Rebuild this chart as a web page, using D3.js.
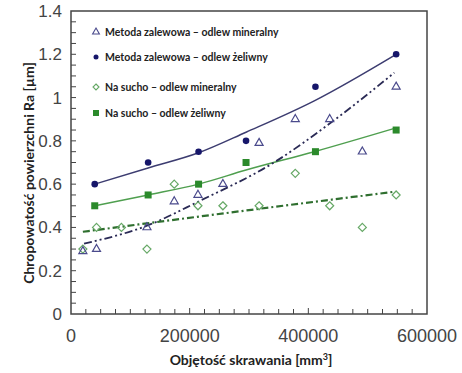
<!DOCTYPE html>
<html>
<head>
<meta charset="utf-8">
<script src="https://cdn.jsdelivr.net/npm/d3@7"></script>
<style>
  body { margin: 0; background: #fff; }
  svg { display: block; }
</style>
</head>
<body>
<div id="chart"></div>
<script>
// Ra vs cutting volume, four series + trend lines
const width = 462, height = 373;
const margin = {left: 71, right: 35, top: 11, bottom: 59};

// measured points
const triX = [20000, 43000, 128000, 174000, 214000, 256000, 317000, 378000, 436000, 491000, 548000];
const triY = [0.29, 0.30, 0.40, 0.52, 0.55, 0.60, 0.79, 0.90, 0.90, 0.75, 1.05];
const circX = [40000, 130000, 215000, 295000, 412000, 548000];
const circY = [0.60, 0.70, 0.75, 0.80, 1.05, 1.20];
const diaX = [20000, 43000, 85000, 128000, 174000, 214000, 256000, 317000, 378000, 436000, 491000, 548000];
const diaY = [0.30, 0.40, 0.40, 0.30, 0.60, 0.50, 0.50, 0.50, 0.65, 0.50, 0.40, 0.55];
const sqX = [40000, 130000, 215000, 295000, 412000, 548000];
const sqY = [0.50, 0.55, 0.60, 0.70, 0.75, 0.85];

// trend lines
const trendCircX = [40000, 130000, 215000, 295000, 410000, 548000];
const trendCircY = [0.60, 0.675, 0.745, 0.84, 0.985, 1.20];
const trendSqX = [40000, 130000, 215000, 295000, 410000, 548000];
const trendSqY = [0.50, 0.55, 0.60, 0.665, 0.75, 0.86];
const trendTriX = [22000, 130000, 215000, 345000, 436000, 545000];
const trendTriY = [0.325, 0.41, 0.52, 0.705, 0.88, 1.115];
const trendDiaX = [20000, 300000, 545000];
const trendDiaY = [0.38, 0.48, 0.565];

const xTicks = [0, 200000, 400000, 600000];
const yTicks = [0, 0.2, 0.4, 0.6, 0.8, 1, 1.2, 1.4];

const legendLabels = [
  'Metoda zalewowa – odlew mineralny',
  'Metoda zalewowa – odlew żeliwny',
  'Na sucho – odlew mineralny',
  'Na sucho – odlew żeliwny'
];

const navy = '#16166a', navyLine = '#3c3c70', triCol = '#4a4a8c';
const green = '#2b8a2b', greenLine = '#4f9f4f', diaCol = '#66a866', greenDash = '#2f6f2f';

const svg = d3.select('#chart').append('svg')
    .attr('width', width)
    .attr('height', height);

const x = d3.scaleLinear().domain([0, 600000]).range([margin.left, width - margin.right]);
const y = d3.scaleLinear().domain([0, 1.4]).range([height - margin.bottom, margin.top]);

const zip = (xs, ys) => xs.map((v, i) => [v, ys[i]]);
const line = d3.line().x(d => x(d[0])).y(d => y(d[1])).curve(d3.curveMonotoneX);

// frame
svg.append('rect')
    .attr('x', x(0)).attr('y', y(1.4))
    .attr('width', x(600000) - x(0)).attr('height', y(0) - y(1.4))
    .style('fill', 'none').style('stroke', '#444').style('stroke-width', 1.5);

// minor ticks (inside)
const xMinor = d3.range(25000, 600000, 25000);
svg.append('g').selectAll('line').data(xMinor).join('line')
    .attr('x1', d => x(d)).attr('x2', d => x(d))
    .attr('y1', y(0)).attr('y2', d => y(0) - (d % 200000 === 0 ? 6 : 5))
    .style('stroke', '#444').style('stroke-width', 1);
const yMinor = d3.range(1, 28).map(i => i * 0.05);
svg.append('g').selectAll('line').data(yMinor).join('line')
    .attr('x1', x(0)).attr('x2', d => x(0) + 5)
    .attr('y1', d => y(d)).attr('y2', d => y(d))
    .style('stroke', '#444').style('stroke-width', 1);

// tick labels
svg.append('g').selectAll('text').data(xTicks).join('text')
    .attr('x', d => x(d)).attr('y', 342)
    .attr('text-anchor', 'middle')
    .style('font-family', '"Liberation Sans", Arial, sans-serif')
    .style('font-size', '18px').style('fill', '#444')
    .text(d => d);
svg.append('g').selectAll('text').data(yTicks).join('text')
    .attr('x', 62).attr('y', d => y(d) + 6)
    .attr('text-anchor', 'end')
    .style('font-family', '"Liberation Sans", Arial, sans-serif')
    .style('font-size', '17px').style('fill', '#444')
    .text(d => d);

// axis titles
svg.append('text')
    .attr('x', 251).attr('y', 365)
    .attr('text-anchor', 'middle')
    .style('font-family', 'Lato, sans-serif').style('font-weight', 'bold')
    .style('font-size', '14px').style('fill', '#222')
    .text('Objętość skrawania [mm')
    .append('tspan').attr('dy', -5).style('font-size', '9px').text('3')
    .select(function() { return this.parentNode; })
    .append('tspan').attr('dy', 5).text(']');

svg.append('text')
    .attr('transform', 'translate(34,173) rotate(-90)')
    .attr('text-anchor', 'middle')
    .style('font-family', 'Lato, sans-serif').style('font-weight', 'bold')
    .style('font-size', '14px').style('fill', '#222')
    .text('Chropowatość powierzchni Ra [µm]');

// trend lines
svg.append('path').datum(zip(trendCircX, trendCircY)).attr('d', line)
    .style('fill', 'none').style('stroke', navyLine).style('stroke-width', 1.5);
svg.append('path').datum(zip(trendSqX, trendSqY)).attr('d', line)
    .style('fill', 'none').style('stroke', greenLine).style('stroke-width', 1.5);
svg.append('path').datum(zip(trendTriX, trendTriY)).attr('d', line)
    .style('fill', 'none').style('stroke', '#2a2a55').style('stroke-width', 1.8)
    .style('stroke-dasharray', '8,3,2,3,2,3');
svg.append('path').datum(zip(trendDiaX, trendDiaY)).attr('d', line)
    .style('fill', 'none').style('stroke', greenDash).style('stroke-width', 2.2)
    .style('stroke-dasharray', '7,3,2,3');

// marker shapes
const triSym = d3.symbol().type(d3.symbolTriangle).size(28);
const diamond = r => `M0,${-r}L${r},0L0,${r}L${-r},0Z`;

svg.append('g').selectAll('path').data(zip(diaX, diaY)).join('path')
    .attr('transform', d => `translate(${x(d[0])},${y(d[1])})`)
    .attr('d', diamond(4))
    .style('fill', 'none').style('stroke', diaCol).style('stroke-width', 1.2);
svg.append('g').selectAll('path').data(zip(triX, triY)).join('path')
    .attr('transform', d => `translate(${x(d[0])},${y(d[1])})`)
    .attr('d', triSym)
    .style('fill', 'none').style('stroke', triCol).style('stroke-width', 1.2);
svg.append('g').selectAll('circle').data(zip(circX, circY)).join('circle')
    .attr('cx', d => x(d[0])).attr('cy', d => y(d[1])).attr('r', 3.3)
    .style('fill', navy);
svg.append('g').selectAll('rect').data(zip(sqX, sqY)).join('rect')
    .attr('x', d => x(d[0]) - 3.5).attr('y', d => y(d[1]) - 3.5)
    .attr('width', 7).attr('height', 7)
    .style('fill', green);

// legend
const legendY = [32, 57, 87, 113];
const lg = svg.append('g');
lg.append('path').attr('transform', `translate(96,${legendY[0]})`)
    .attr('d', d3.symbol().type(d3.symbolTriangle).size(20))
    .style('fill', 'none').style('stroke', triCol).style('stroke-width', 1.1);
lg.append('circle').attr('cx', 96).attr('cy', legendY[1]).attr('r', 2.5).style('fill', navy);
lg.append('path').attr('transform', `translate(96,${legendY[2]})`)
    .attr('d', diamond(3))
    .style('fill', 'none').style('stroke', diaCol).style('stroke-width', 1.1);
lg.append('rect').attr('x', 93).attr('y', legendY[3] - 3).attr('width', 6).attr('height', 6)
    .style('fill', green);
lg.selectAll('text').data(legendLabels).join('text')
    .attr('x', 105).attr('y', (d, i) => legendY[i] + 3.5)
    .style('font-family', 'Lato, sans-serif').style('font-weight', 'bold')
    .style('font-size', '10.5px').style('fill', '#222')
    .text(d => d);
</script>
</body>
</html>
